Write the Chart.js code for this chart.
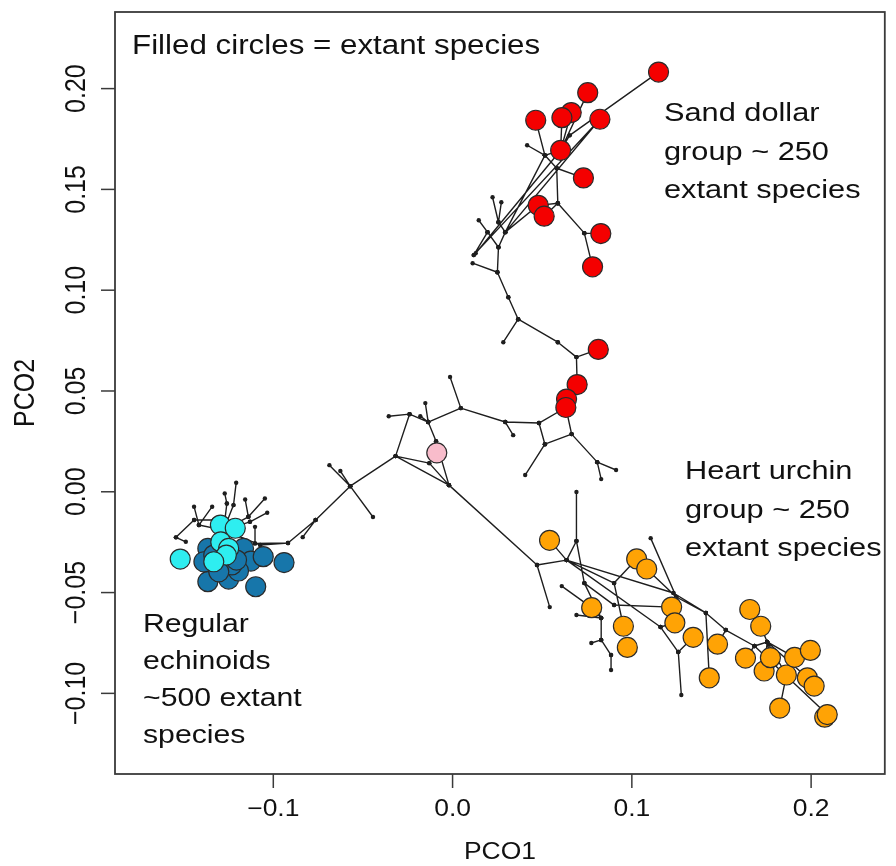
<!DOCTYPE html>
<html>
<head>
<meta charset="utf-8">
<script src="https://cdn.jsdelivr.net/npm/chart.js@4.4.1/dist/chart.umd.min.js"></script>
<style>
  body { margin: 0; background: #fff; }
  canvas { display: block; }
</style>
</head>
<body>
<canvas id="pcoChart" width="896" height="866"></canvas>
<script>
// extant species (filled circles)
const sandDollarPCO1 = [0.1149, 0.0754, 0.0662, 0.0610, 0.0464, 0.0822, 0.0603, 0.0730, 0.0478, 0.0511, 0.0827, 0.0781, 0.0813, 0.0695, 0.0636, 0.0632];
const sandDollarPCO2 = [0.2082, 0.1980, 0.1881, 0.1856, 0.1843, 0.1848, 0.1694, 0.1557, 0.1421, 0.1367, 0.1281, 0.1116, 0.0706, 0.0532, 0.0460, 0.0418];
const heartUrchinPCO1 = [0.0541, 0.1027, 0.1083, 0.0776, 0.1222, 0.1240, 0.0953, 0.0975, 0.1342, 0.1478, 0.1658, 0.1719, 0.1432, 0.1634, 0.1738, 0.1773, 0.1862, 0.1908, 0.1996, 0.1979, 0.2017, 0.1825, 0.2076, 0.2090];
const heartUrchinPCO2 = [-0.0241, -0.0333, -0.0383, -0.0575, -0.0572, -0.0650, -0.0667, -0.0772, -0.0722, -0.0756, -0.0584, -0.0667, -0.0923, -0.0825, -0.0889, -0.0823, -0.0909, -0.0821, -0.0787, -0.0923, -0.0964, -0.1073, -0.1118, -0.1105];
const regularDarkPCO1 = [-0.1365, -0.1387, -0.1166, -0.1125, -0.1056, -0.0940, -0.1365, -0.1249, -0.1194, -0.1231, -0.1304, -0.1098, -0.1332, -0.1205];
const regularDarkPCO2 = [-0.0281, -0.0347, -0.0281, -0.0344, -0.0322, -0.0351, -0.0446, -0.0433, -0.0393, -0.0363, -0.0397, -0.0471, -0.0314, -0.0339];
const regularLightPCO1 = [-0.1295, -0.1212, -0.1293, -0.1249, -0.1262, -0.1332, -0.1519];
const regularLightPCO2 = [-0.0165, -0.0181, -0.0249, -0.0281, -0.0314, -0.0347, -0.0334];
const ancestorPCO1 = [-0.0088];
const ancestorPCO2 = [0.0193];

// tree nodes and branches
const treeNodePCO1 = [
  -0.1073, -0.0918, -0.0764, -0.0571, -0.0836, -0.0687, -0.0444, -0.0318, -0.0240, -0.0356,
  -0.0136, -0.0152, -0.0180, 0.0046, -0.0092, -0.0014, 0.0294, 0.0338, 0.0482, 0.0515,
  0.0664, 0.0632, 0.0405, 0.0807, 0.0912, 0.0829, -0.0130, -0.0020, 0.0636, 0.0695,
  0.0691, 0.0813, 0.0587, 0.0366, 0.0283, 0.0311, 0.0250, 0.0112, 0.0256, 0.0195,
  0.0146, 0.0118, 0.0294, 0.0478, 0.0256, 0.0223, 0.0272, 0.0129, 0.0603, 0.0822,
  0.0515, 0.0416, 0.0464, 0.0581, 0.0730, 0.0587, 0.0511, 0.0735, 0.0827, 0.0781,
  0.0662, 0.0754, 0.0610, 0.0653, 0.1149, 0.0471, 0.0542, 0.0636, 0.0541, 0.0691,
  0.0691, 0.0901, 0.1027, 0.0953, 0.0776, 0.0609, 0.0735, 0.0901, 0.1222, 0.0829,
  0.0829, 0.0774, 0.0884, 0.0884, 0.0691, 0.1105, 0.1248, 0.1413, 0.1160, 0.1259,
  0.1276, 0.1342, 0.1432, 0.1524, 0.1478, 0.1684, 0.1755, 0.1719, 0.1658, 0.2090,
  0.1862, 0.1825, 0.1979, 0.1908, 0.1996, 0.1232, 0.1083, -0.1222, -0.1207, -0.1271,
  -0.1259, -0.1157, -0.1047, -0.1139, -0.1034, -0.1130, -0.1442, -0.1415, -0.1341, -0.1543,
  -0.1442, -0.1488, -0.0626, -0.1102, -0.1102, -0.1277, -0.1332, 0.1634, 0.1738, 0.1773,
  0.2017, 0.1240
];
const treeNodePCO2 = [
  -0.0264, -0.0254, -0.0140, 0.0028, -0.0225, 0.0132, -0.0125, 0.0177, 0.0385, 0.0375,
  0.0346, 0.0440, 0.0375, 0.0415, 0.0251, 0.0569, 0.0346, 0.0281, 0.0341, 0.0236,
  0.0286, 0.0418, 0.0083, 0.0147, 0.0108, 0.0063, 0.0142, 0.0033, 0.0460, 0.0532,
  0.0668, 0.0706, 0.0742, 0.0856, 0.0742, 0.0965, 0.1089, 0.1134, 0.1213, 0.1288,
  0.1347, 0.1174, 0.1288, 0.1421, 0.1337, 0.1461, 0.1436, 0.1183, 0.1694, 0.1848,
  0.1669, 0.1719, 0.1843, 0.1605, 0.1557, 0.1431, 0.1367, 0.1283, 0.1281, 0.1116,
  0.1881, 0.1980, 0.1856, 0.1768, 0.2082, -0.0363, -0.0572, -0.0339, -0.0241, -0.0244,
  -0.0001, -0.0453, -0.0333, -0.0667, -0.0575, -0.0468, -0.0453, -0.0562, -0.0572, -0.0626,
  -0.0735, -0.0750, -0.0810, -0.0884, -0.0611, -0.0230, -0.0522, -0.0601, -0.0671, -0.0795,
  -0.1008, -0.0722, -0.0923, -0.0686, -0.0756, -0.0765, -0.0745, -0.0667, -0.0584, -0.1105,
  -0.0909, -0.1073, -0.0923, -0.0821, -0.0787, -0.0502, -0.0383, -0.0066, 0.0045, -0.0008,
  -0.0058, -0.0038, -0.0033, -0.0124, -0.0104, -0.0149, -0.0074, -0.0165, -0.0074, -0.0226,
  -0.0140, -0.0248, 0.0103, -0.0256, -0.0174, -0.0190, -0.0140, -0.0825, -0.0889, -0.0823,
  -0.0964, -0.0650
];
const treeEdges = [
  [0,125],[107,108],[107,125],[109,110],[110,125],[111,113],[112,113],[113,125],[114,115],[115,125],
  [116,117],[118,117],[117,125],[119,120],[120,126],[119,121],[126,125],[123,1],[124,123],
  [0,1],[1,2],[2,3],[2,4],[3,5],[3,6],[3,7],[3,122],[7,8],[8,9],[8,10],[10,11],[10,12],[10,13],
  [10,14],[13,15],[13,16],[16,17],[16,18],[18,19],[19,20],[20,21],[18,21],[19,22],[20,23],[23,24],
  [23,25],[7,26],[26,27],[14,27],[7,27],
  [21,28],[28,29],[29,30],[30,31],[30,32],[32,33],[33,34],[33,35],[35,36],[36,37],[36,38],[38,39],
  [39,40],[39,41],[38,42],[42,43],[42,44],[44,45],[44,46],[47,48],[41,49],[42,49],[50,51],[50,52],
  [50,48],[50,42],[53,50],[53,54],[53,55],[55,56],[55,43],[55,57],[57,58],[57,59],[48,60],[48,61],
  [48,62],[48,63],[63,64],
  [27,65],[65,66],[65,67],[67,68],[67,69],[69,70],[67,71],[71,72],[71,73],[74,75],[69,76],[76,77],
  [77,78],[76,79],[74,79],[79,80],[80,81],[80,82],[82,83],[84,79],[85,86],[86,87],[67,88],[88,89],
  [89,90],[89,91],[87,92],[87,93],[93,94],[93,95],[95,96],[96,97],[97,98],[95,99],[96,100],[100,101],
  [96,102],[103,104],[96,103],[67,105],[105,87],[72,106],[106,86],[127,95],[128,96],[129,96],
  [130,102],[131,88],[131,78]
];

// axes
const xTickValues = [-0.1, 0.0, 0.1, 0.2];
const xTickLabels = ['\u22120.1', '0.0', '0.1', '0.2'];
const yTickValues = [-0.10, -0.05, 0.00, 0.05, 0.10, 0.15, 0.20];
const yTickLabels = ['\u22120.10', '\u22120.05', '0.00', '0.05', '0.10', '0.15', '0.20'];
const xTitle = 'PCO1';
const yTitle = 'PCO2';

const noteTop = ['Filled circles = extant species'];
const noteSandDollar = ['Sand dollar', 'group ~ 250', 'extant species'];
const noteHeartUrchin = ['Heart urchin', 'group ~ 250', 'extant species'];
const noteRegular = ['Regular', 'echinoids', '~500 extant', 'species'];

function toPoints(xs, ys) {
    return xs.map((x, i) => ({ x: x, y: ys[i] }));
}

// branches as one line with gaps between segments
const branchPoints = [];
treeEdges.forEach(function(e) {
    branchPoints.push({ x: treeNodePCO1[e[0]], y: treeNodePCO2[e[0]] });
    branchPoints.push({ x: treeNodePCO1[e[1]], y: treeNodePCO2[e[1]] });
    branchPoints.push({ x: NaN, y: NaN });
});

const FONT = '"Liberation Sans", Arial, Helvetica, sans-serif';

function stretchedText(ctx, text, x, y, sx) {
    ctx.save();
    ctx.translate(x, y);
    ctx.scale(sx, 1);
    ctx.fillText(text, 0, 0);
    ctx.restore();
}

const rAxesPlugin = {
    id: 'rAxes',
    afterDraw(chart) {
        const ctx = chart.ctx;
        const area = chart.chartArea;
        const xs = chart.scales.x;
        const ys = chart.scales.y;

        ctx.save();
        ctx.strokeStyle = '#3a3a3a';
        ctx.lineWidth = 1.8;
        ctx.strokeRect(area.left, area.top, area.right - area.left, area.bottom - area.top);

        ctx.fillStyle = '#111';
        ctx.lineWidth = 1.5;

        // x ticks
        ctx.textAlign = 'center';
        ctx.textBaseline = 'middle';
        ctx.font = '23px ' + FONT;
        xTickValues.forEach(function(v, i) {
            const px = xs.getPixelForValue(v);
            ctx.beginPath();
            ctx.moveTo(px, area.bottom);
            ctx.lineTo(px, area.bottom + 14);
            ctx.stroke();
            stretchedText(ctx, xTickLabels[i], px, area.bottom + 36, 1.15);
        });
        stretchedText(ctx, xTitle, (area.left + area.right) / 2, area.bottom + 79, 1.15);

        // y ticks, rotated labels
        ctx.font = '25px ' + FONT;
        yTickValues.forEach(function(v, i) {
            const py = ys.getPixelForValue(v);
            ctx.beginPath();
            ctx.moveTo(area.left, py);
            ctx.lineTo(area.left - 14, py);
            ctx.stroke();
            ctx.save();
            ctx.translate(area.left - 38, py);
            ctx.rotate(-Math.PI / 2);
            ctx.scale(1, 1.15);
            ctx.fillText(yTickLabels[i], 0, 0);
            ctx.restore();
        });
        ctx.save();
        ctx.translate(26, (area.top + area.bottom) / 2);
        ctx.rotate(-Math.PI / 2);
        ctx.scale(1, 1.15);
        ctx.fillText(yTitle, 0, 0);
        ctx.restore();

        // annotations
        ctx.textAlign = 'left';
        ctx.textBaseline = 'alphabetic';
        ctx.font = '27px ' + FONT;
        stretchedText(ctx, noteTop[0], area.left + 17, area.top + 42, 1.16);
        ctx.font = '26.5px ' + FONT;
        noteSandDollar.forEach(function(t, i) {
            stretchedText(ctx, t, 664, 121 + i * 38.5, 1.16);
        });
        noteHeartUrchin.forEach(function(t, i) {
            stretchedText(ctx, t, 685, 479 + i * 38.5, 1.16);
        });
        noteRegular.forEach(function(t, i) {
            stretchedText(ctx, t, 143, 632 + i * 37, 1.14);
        });
        ctx.restore();
    }
};

document.addEventListener('DOMContentLoaded', function() {
    const ctx = document.getElementById('pcoChart').getContext('2d');
    const tip = { pointRadius: 10, pointBorderColor: '#2b2b2b', pointBorderWidth: 1.2, showLine: false };

    new Chart(ctx, {
        type: 'scatter',
        data: {
            datasets: [
                Object.assign({ label: 'ancestor', data: toPoints(ancestorPCO1, ancestorPCO2), pointBackgroundColor: '#f8bccb' }, tip),
                Object.assign({ label: 'sand dollars', data: toPoints(sandDollarPCO1, sandDollarPCO2), pointBackgroundColor: '#f40000' }, tip),
                Object.assign({ label: 'heart urchins', data: toPoints(heartUrchinPCO1, heartUrchinPCO2), pointBackgroundColor: '#ffa305' }, tip),
                Object.assign({ label: 'regular (light)', data: toPoints(regularLightPCO1, regularLightPCO2), pointBackgroundColor: '#2eeef0' }, tip),
                Object.assign({ label: 'regular (dark)', data: toPoints(regularDarkPCO1, regularDarkPCO2), pointBackgroundColor: '#1776aa' }, tip),
                {
                    label: 'tree',
                    type: 'line',
                    data: branchPoints,
                    borderColor: '#1e1e1e',
                    borderWidth: 1.4,
                    pointRadius: 2.2,
                    pointBackgroundColor: '#1e1e1e',
                    pointBorderWidth: 0,
                    spanGaps: false,
                    tension: 0
                }
            ]
        },
        options: {
            responsive: false,
            animation: false,
            events: [],
            layout: { padding: { top: 12, right: 2, left: 0, bottom: 0 } },
            plugins: {
                legend: { display: false },
                tooltip: { enabled: false }
            },
            scales: {
                x: {
                    type: 'linear',
                    min: -0.1883,
                    max: 0.2411,
                    grid: { display: false },
                    border: { display: false },
                    ticks: { display: false },
                    afterFit: function(scale) { scale.height = 92; }
                },
                y: {
                    type: 'linear',
                    min: -0.140,
                    max: 0.238,
                    grid: { display: false },
                    border: { display: false },
                    ticks: { display: false },
                    afterFit: function(scale) { scale.width = 115; }
                }
            }
        },
        plugins: [rAxesPlugin]
    });
});
</script>
</body>
</html>
